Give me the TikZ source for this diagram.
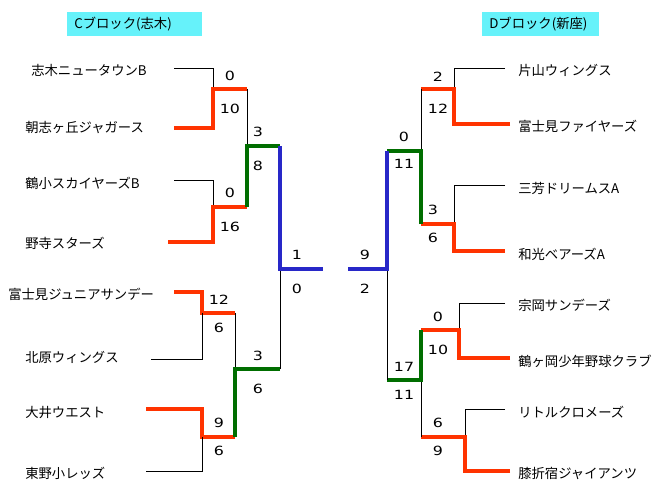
\documentclass[tikz,border=0pt]{standalone}
\usepackage{fontspec}
\setmainfont{Noto Sans CJK JP}
\newfontfamily\scorefont[FakeStretch=1.25]{DejaVu Sans}
\usepackage{tikz}

\definecolor{winred}{RGB}{255,51,0}
\definecolor{wingreen}{RGB}{0,110,0}
\definecolor{winblue}{RGB}{40,40,200}
\definecolor{titlecyan}{RGB}{102,242,250}

\begin{document}
\begin{tikzpicture}[x=0.75pt,y=-0.75pt,every node/.style={font=\fontsize{10}{12}\selectfont,
  inner sep=0pt},
  team/.style={anchor=west},
  score/.style={font=\scorefont\fontsize{9.5}{12}\selectfont},
  lost/.style={black,line width=0.6pt},
  redwin/.style={winred,line width=2.4pt},
  greenwin/.style={wingreen,line width=2.4pt},
  bluewin/.style={winblue,line width=2.4pt},]

  \useasboundingbox (0,0) rectangle (671,503);

  % titles
  \fill[titlecyan] (67,12) rectangle (202,36);
  \node[anchor=west] (cblock) at (74,24) {Cブロック(志木)};
  \fill[titlecyan] (482,12) rectangle (599,36);
  \node[anchor=west] (dblock) at (489,24) {Dブロック(新座)};

  % C block teams
  \node[team] (c1) at (31,70) {志木ニュータウンB};
  \node[team] (c2) at (25,127) {朝志ヶ丘ジャガース};
  \node[team] (c3) at (25,183) {鶴小スカイヤーズB};
  \node[team] (c4) at (25,243) {野寺スターズ};
  \node[team] (c5) at (8,294) {富士見ジュニアサンデー};
  \node[team] (c6) at (25,357) {北原ウィングス};
  \node[team] (c7) at (25,413) {大井ウエスト};
  \node[team] (c8) at (25,473) {東野小レッズ};

  % D block teams
  \node[team] (d1) at (518,70) {片山ウィングス};
  \node[team] (d2) at (518,126) {富士見ファイヤーズ};
  \node[team] (d3) at (518,188) {三芳ドリームスA};
  \node[team] (d4) at (518,254) {和光ベアーズA};
  \node[team] (d5) at (518,305) {宗岡サンデーズ};
  \node[team] (d6) at (518,361) {鶴ヶ岡少年野球クラブ};
  \node[team] (d7) at (518,412) {リトルクロメーズ};
  \node[team] (d8) at (518,473) {膝折宿ジャイアンツ};

  % C block bracket
  \draw[lost] (174,68) -| (213,89);
  \draw[redwin] (174,128) -| (213,89) -- (247,89);
  \draw[lost] (174,180) -| (213,207);
  \draw[redwin] (168,242) -| (213,207) -- (247,207);
  \draw[lost] (247,89) -- (247,146);
  \draw[greenwin] (247,207) -- (247,146) -- (280,146);
  \draw[redwin] (174,292) -| (202,313) -- (235,313);
  \draw[lost] (151,359) -| (202,313);
  \draw[redwin] (146,409) -| (202,437) -- (235,437);
  \draw[lost] (146,471) -| (202,437);
  \draw[lost] (235,313) -- (235,369);
  \draw[greenwin] (235,437) -- (235,369) -- (280,369);
  \draw[lost] (280,369) -- (280,269);
  \draw[bluewin] (280,146) -- (280,269) -- (323,269);

  % D block bracket
  \draw[lost] (505,68) -| (454,89);
  \draw[redwin] (510,124) -| (454,89) -- (421,89);
  \draw[lost] (505,185) -| (454,224);
  \draw[redwin] (505,251) -| (454,224) -- (421,224);
  \draw[lost] (421,89) -- (421,151);
  \draw[greenwin] (421,224) -- (421,151) -- (387,151);
  \draw[lost] (505,303) -| (459,330);
  \draw[redwin] (510,358) -| (459,330) -- (421,330);
  \draw[lost] (505,409) -| (465,437);
  \draw[redwin] (510,471) -| (465,437) -- (421,437);
  \draw[lost] (421,380) -- (421,437);
  \draw[greenwin] (421,330) -- (421,380) -- (387,380);
  \draw[lost] (387,269) -- (387,380);
  \draw[bluewin] (387,151) -- (387,269) -- (348,269);

  % C block scores
  \node[score] (sc1) at (230,76) {0};
  \node[score] (sc2) at (230,109) {10};
  \node[score] (sc3) at (230,193) {0};
  \node[score] (sc4) at (230,227) {16};
  \node[score] (sc5) at (219,300) {12};
  \node[score] (sc6) at (219,328) {6};
  \node[score] (sc7) at (219,423) {9};
  \node[score] (sc8) at (219,451) {6};
  \node[score] (sc9) at (258,132) {3};
  \node[score] (sc10) at (258,166) {8};
  \node[score] (sc11) at (258,356) {3};
  \node[score] (sc12) at (258,389) {6};
  \node[score] (sc13) at (297,255) {1};
  \node[score] (sc14) at (297,289) {0};

  % D block scores
  \node[score] (sd1) at (438,77) {2};
  \node[score] (sd2) at (438,109) {12};
  \node[score] (sd3) at (433,210) {3};
  \node[score] (sd4) at (433,238) {6};
  \node[score] (sd5) at (438,317) {0};
  \node[score] (sd6) at (438,350) {10};
  \node[score] (sd7) at (438,423) {6};
  \node[score] (sd8) at (438,451) {9};
  \node[score] (sd9) at (404,137) {0};
  \node[score] (sd10) at (404,164) {11};
  \node[score] (sd11) at (404,367) {17};
  \node[score] (sd12) at (404,395) {11};
  \node[score] (sd13) at (365,255) {9};
  \node[score] (sd14) at (365,289) {2};

\end{tikzpicture}
\end{document}
